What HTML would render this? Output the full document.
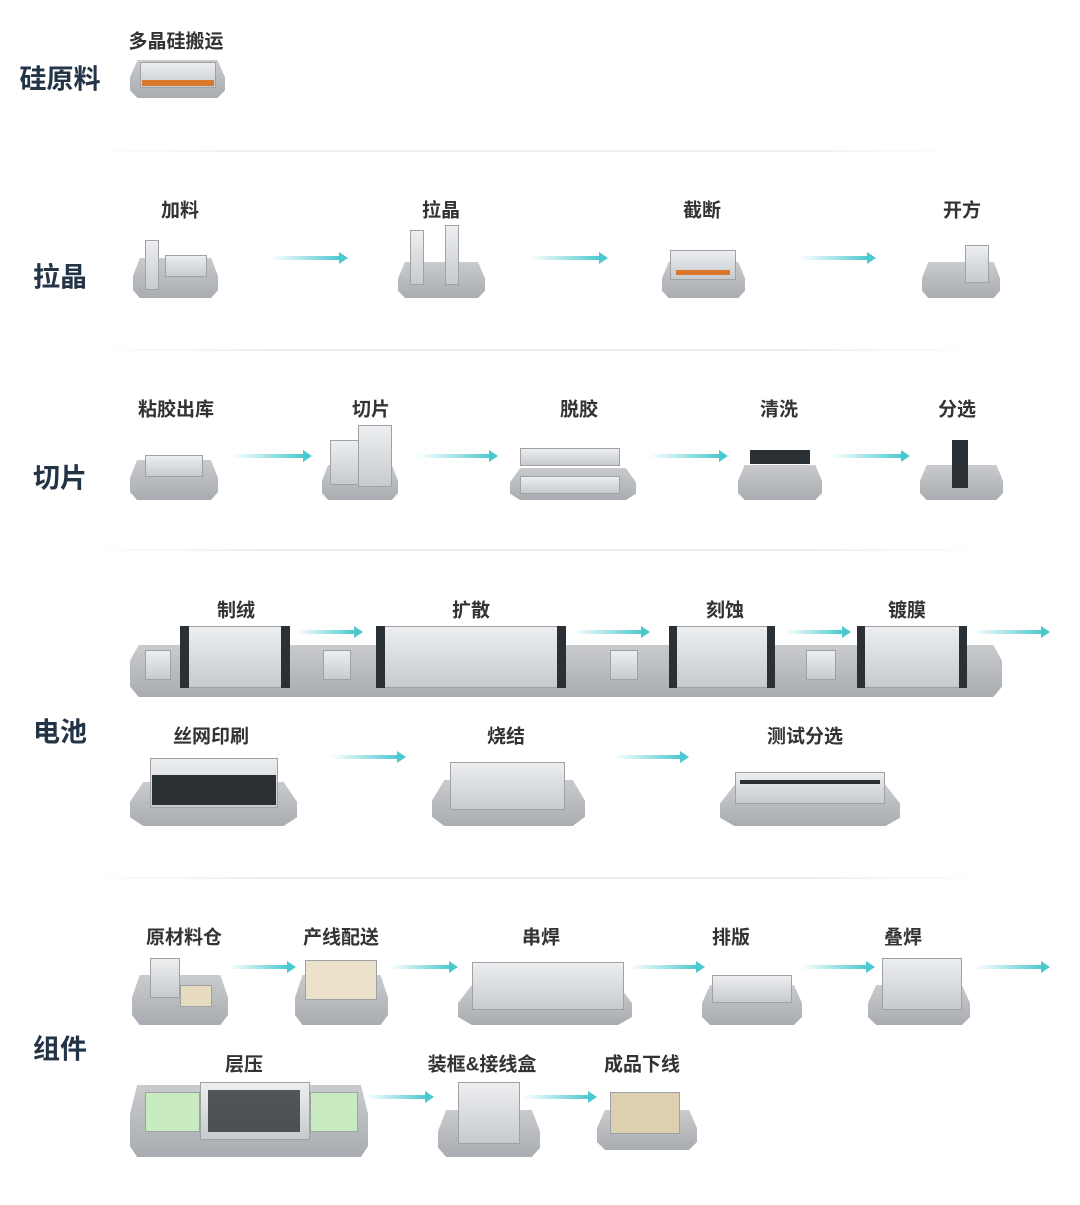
<!DOCTYPE html>
<html><head><meta charset="utf-8"><style>
body{margin:0;background:#fff;}
#c{position:relative;width:1080px;height:1205px;overflow:hidden;background:#fff;font-family:"Liberation Sans","Noto Sans CJK SC",sans-serif;}
.t{position:absolute;font-weight:bold;font-size:27px;color:#243447;transform:translate(-50%,-50%);white-space:nowrap;}
.l{position:absolute;font-weight:bold;font-size:19px;color:#333;transform:translate(-50%,-50%);white-space:nowrap;}
.p{position:absolute;background:linear-gradient(#c9cbce,#a9acb0);clip-path:polygon(8% 0,92% 0,100% 45%,100% 80%,92% 100%,8% 100%,0 80%,0 45%);}
.m{position:absolute;background:linear-gradient(#eceef0,#c8cbce);border:1px solid #9ea2a6;box-sizing:border-box;}
.d{position:absolute;height:2px;background:linear-gradient(90deg,rgba(230,232,235,0),#eceef0 20%,#eceef0 80%,rgba(230,232,235,0));}
.a{position:absolute;height:4px;background:linear-gradient(90deg,rgba(80,205,210,0),#4cc9d0);}
.a:after{content:"";position:absolute;right:-8px;top:-4px;border-left:9px solid #4cc9d0;border-top:6px solid transparent;border-bottom:6px solid transparent;}
.k{position:absolute;background:#2b3034;}
.o{position:absolute;background:#d9782c;}
</style></head><body><div id="c">
<div class="d" style="left:90px;top:150px;width:870px"></div>
<div class="d" style="left:90px;top:349px;width:890px"></div>
<div class="d" style="left:80px;top:549px;width:910px"></div>
<div class="d" style="left:80px;top:877px;width:910px"></div>

<div class="t" style="left:60px;top:77px">硅原料</div>
<div class="l" style="left:176px;top:40px">多晶硅搬运</div>
<div class="p" style="left:130px;top:60px;width:95px;height:38px"></div>
<div class="m" style="left:140px;top:62px;width:76px;height:26px"></div>
<div class="o" style="left:142px;top:80px;width:72px;height:6px"></div>

<div class="t" style="left:60px;top:275px">拉晶</div>
<div class="l" style="left:180px;top:209px">加料</div>
<div class="l" style="left:441px;top:209px">拉晶</div>
<div class="l" style="left:702px;top:209px">截断</div>
<div class="l" style="left:962px;top:209px">开方</div>
<div class="p" style="left:133px;top:258px;width:85px;height:40px"></div>
<div class="m" style="left:145px;top:240px;width:14px;height:50px"></div>
<div class="m" style="left:165px;top:255px;width:42px;height:22px"></div>
<div class="p" style="left:398px;top:262px;width:87px;height:36px"></div>
<div class="m" style="left:410px;top:230px;width:14px;height:55px"></div>
<div class="m" style="left:445px;top:225px;width:14px;height:60px"></div>
<div class="p" style="left:662px;top:262px;width:83px;height:36px"></div>
<div class="m" style="left:670px;top:250px;width:66px;height:30px"></div>
<div class="o" style="left:676px;top:270px;width:54px;height:5px"></div>
<div class="p" style="left:922px;top:262px;width:78px;height:36px"></div>
<div class="m" style="left:965px;top:245px;width:24px;height:38px"></div>
<div class="a" style="left:270px;top:256px;width:70px"></div>
<div class="a" style="left:530px;top:256px;width:70px"></div>
<div class="a" style="left:800px;top:256px;width:68px"></div>

<div class="t" style="left:60px;top:476px">切片</div>
<div class="l" style="left:176px;top:408px">粘胶出库</div>
<div class="l" style="left:371px;top:408px">切片</div>
<div class="l" style="left:579px;top:408px">脱胶</div>
<div class="l" style="left:779px;top:408px">清洗</div>
<div class="l" style="left:957px;top:408px">分选</div>
<div class="p" style="left:130px;top:460px;width:88px;height:40px"></div>
<div class="m" style="left:145px;top:455px;width:58px;height:22px"></div>
<div class="p" style="left:322px;top:465px;width:76px;height:35px"></div>
<div class="m" style="left:330px;top:440px;width:30px;height:45px"></div>
<div class="m" style="left:358px;top:425px;width:34px;height:62px"></div>
<div class="p" style="left:510px;top:468px;width:126px;height:32px"></div>
<div class="m" style="left:520px;top:448px;width:100px;height:18px"></div>
<div class="m" style="left:520px;top:476px;width:100px;height:18px"></div>
<div class="p" style="left:738px;top:465px;width:84px;height:35px"></div>
<div class="k" style="left:750px;top:450px;width:60px;height:14px"></div>
<div class="p" style="left:920px;top:465px;width:83px;height:35px"></div>
<div class="k" style="left:952px;top:440px;width:16px;height:48px"></div>
<div class="a" style="left:232px;top:454px;width:72px"></div>
<div class="a" style="left:418px;top:454px;width:72px"></div>
<div class="a" style="left:650px;top:454px;width:70px"></div>
<div class="a" style="left:830px;top:454px;width:72px"></div>

<div class="t" style="left:60px;top:730px">电池</div>
<div class="l" style="left:236px;top:609px">制绒</div>
<div class="l" style="left:471px;top:609px">扩散</div>
<div class="l" style="left:725px;top:609px">刻蚀</div>
<div class="l" style="left:907px;top:609px">镀膜</div>
<div class="p" style="left:130px;top:645px;width:872px;height:52px;clip-path:polygon(1% 0,99% 0,100% 30%,100% 80%,99% 100%,1% 100%,0 80%,0 30%)"></div>
<div class="m" style="left:180px;top:626px;width:110px;height:62px"></div>
<div class="k" style="left:180px;top:626px;width:9px;height:62px"></div><div class="k" style="left:281px;top:626px;width:9px;height:62px"></div>
<div class="m" style="left:376px;top:626px;width:190px;height:62px"></div>
<div class="k" style="left:376px;top:626px;width:9px;height:62px"></div><div class="k" style="left:557px;top:626px;width:9px;height:62px"></div>
<div class="m" style="left:669px;top:626px;width:106px;height:62px"></div>
<div class="k" style="left:669px;top:626px;width:8px;height:62px"></div><div class="k" style="left:767px;top:626px;width:8px;height:62px"></div>
<div class="m" style="left:857px;top:626px;width:110px;height:62px"></div>
<div class="k" style="left:857px;top:626px;width:8px;height:62px"></div><div class="k" style="left:959px;top:626px;width:8px;height:62px"></div>
<div class="m" style="left:145px;top:650px;width:26px;height:30px"></div>
<div class="m" style="left:323px;top:650px;width:28px;height:30px"></div>
<div class="m" style="left:610px;top:650px;width:28px;height:30px"></div>
<div class="m" style="left:806px;top:650px;width:30px;height:30px"></div>
<div class="a" style="left:295px;top:630px;width:60px"></div>
<div class="a" style="left:572px;top:630px;width:70px"></div>
<div class="a" style="left:785px;top:630px;width:58px"></div>
<div class="a" style="left:972px;top:630px;width:70px"></div>

<div class="l" style="left:211px;top:735px">丝网印刷</div>
<div class="l" style="left:506px;top:735px">烧结</div>
<div class="l" style="left:805px;top:735px">测试分选</div>
<div class="p" style="left:130px;top:782px;width:167px;height:44px"></div>
<div class="m" style="left:150px;top:758px;width:128px;height:50px"></div>
<div class="k" style="left:152px;top:775px;width:124px;height:30px"></div>
<div class="p" style="left:432px;top:780px;width:153px;height:46px"></div>
<div class="m" style="left:450px;top:762px;width:115px;height:48px"></div>
<div class="p" style="left:720px;top:785px;width:180px;height:41px"></div>
<div class="m" style="left:735px;top:772px;width:150px;height:32px"></div>
<div class="k" style="left:740px;top:780px;width:140px;height:4px"></div>
<div class="a" style="left:330px;top:755px;width:68px"></div>
<div class="a" style="left:613px;top:755px;width:68px"></div>

<div class="t" style="left:60px;top:1047px">组件</div>
<div class="l" style="left:184px;top:936px">原材料仓</div>
<div class="l" style="left:341px;top:936px">产线配送</div>
<div class="l" style="left:541px;top:936px">串焊</div>
<div class="l" style="left:731px;top:936px">排版</div>
<div class="l" style="left:903px;top:936px">叠焊</div>
<div class="p" style="left:132px;top:975px;width:96px;height:50px"></div>
<div class="m" style="left:150px;top:958px;width:30px;height:40px"></div>
<div class="m" style="left:180px;top:985px;width:32px;height:22px;background:#e8dcc0"></div>
<div class="p" style="left:295px;top:975px;width:93px;height:50px"></div>
<div class="m" style="left:305px;top:960px;width:72px;height:40px;background:#ece2cc"></div>
<div class="p" style="left:458px;top:985px;width:174px;height:40px"></div>
<div class="m" style="left:472px;top:962px;width:152px;height:48px"></div>
<div class="p" style="left:702px;top:985px;width:100px;height:40px"></div>
<div class="m" style="left:712px;top:975px;width:80px;height:28px"></div>
<div class="p" style="left:868px;top:985px;width:102px;height:40px"></div>
<div class="m" style="left:882px;top:958px;width:80px;height:52px"></div>
<div class="a" style="left:228px;top:965px;width:60px"></div>
<div class="a" style="left:390px;top:965px;width:60px"></div>
<div class="a" style="left:630px;top:965px;width:67px"></div>
<div class="a" style="left:800px;top:965px;width:67px"></div>
<div class="a" style="left:975px;top:965px;width:67px"></div>

<div class="l" style="left:244px;top:1063px">层压</div>
<div class="l" style="left:482px;top:1063px">装框&amp;接线盒</div>
<div class="l" style="left:642px;top:1063px">成品下线</div>
<div class="p" style="left:130px;top:1085px;width:238px;height:72px;clip-path:polygon(3% 0,97% 0,100% 40%,100% 85%,97% 100%,3% 100%,0 85%,0 40%)"></div>
<div class="m" style="left:145px;top:1092px;width:55px;height:40px;background:#c8ecc0"></div>
<div class="m" style="left:200px;top:1082px;width:110px;height:58px"></div>
<div class="k" style="left:208px;top:1090px;width:92px;height:42px;opacity:.8"></div>
<div class="m" style="left:310px;top:1092px;width:48px;height:40px;background:#c8ecc0"></div>
<div class="p" style="left:438px;top:1110px;width:102px;height:47px"></div>
<div class="m" style="left:458px;top:1082px;width:62px;height:62px"></div>
<div class="p" style="left:597px;top:1110px;width:100px;height:40px"></div>
<div class="m" style="left:610px;top:1092px;width:70px;height:42px;background:#ddd0b0"></div>
<div class="a" style="left:366px;top:1095px;width:60px"></div>
<div class="a" style="left:523px;top:1095px;width:66px"></div>
</div></body></html>
